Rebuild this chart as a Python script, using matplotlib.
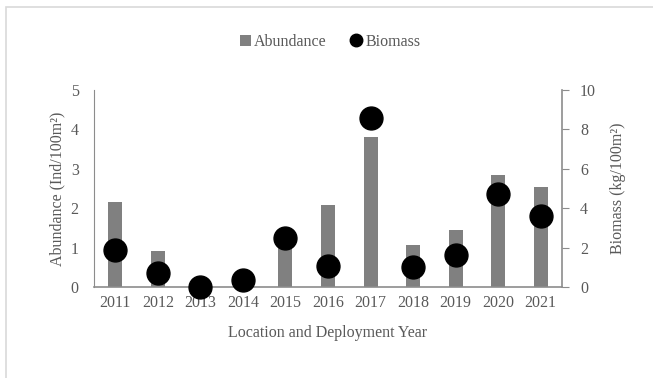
import matplotlib.pyplot as plt
from matplotlib.patches import Rectangle
from matplotlib.lines import Line2D
from matplotlib.patches import Patch

plt.rcParams['font.family'] = ['Liberation Serif', 'DejaVu Serif']

years = ['2011', '2012', '2013', '2014', '2015', '2016', '2017', '2018', '2019', '2020', '2021']
abundance = [2.17, 0.92, 0.0, 0.1, 1.2, 2.08, 3.80, 1.07, 1.45, 2.85, 2.55]
biomass = [1.88, 0.69, 0.0, 0.36, 2.49, 1.08, 8.59, 1.0, 1.64, 4.74, 3.6]

txt = '#595959'
axc = '#8c8c8c'

fig = plt.figure(figsize=(6.53, 3.78), dpi=100)
# light outer frame of the chart area
fig.patches.append(Rectangle((6 / 653, -0.1), 1.2, 1 - 7 / 378 + 0.1, transform=fig.transFigure,
                             fill=False, edgecolor='#d9d9d9', linewidth=1.2))

ax = fig.add_axes([94 / 653, 1 - 287 / 378, (562 - 94) / 653, (287 - 90) / 378])
x = range(len(years))
ax.bar(x, abundance, width=0.33, color='#808080', zorder=2)
ax.set_xlim(-0.5, len(years) - 0.5)
ax.set_ylim(0, 5)
ax.set_yticks(range(0, 6))
ax.set_xticks(list(x))
ax.set_xticklabels(years)
ax.tick_params(axis='x', length=0, colors=txt, labelsize=11.5, pad=6)
ax.tick_params(axis='y', length=0, colors=txt, labelsize=11.5, pad=11)
for s in ['top', 'right']:
    ax.spines[s].set_visible(False)
ax.spines['left'].set_color(axc)
ax.spines['bottom'].set_color(axc)
ax.spines['bottom'].set_linewidth(1.2)
ax.set_ylabel('Abundance (Ind/100m²)', color=txt, fontsize=11.5, labelpad=4)
ax.set_xlabel('Location and Deployment Year', color=txt, fontsize=11.5, labelpad=10)

ax2 = ax.twinx()
ax2.plot(list(x), biomass, 'o', color='black', markersize=16.5, zorder=3, clip_on=False)
ax2.set_ylim(0, 10)
ax2.set_yticks(range(0, 11, 2))
ax2.tick_params(axis='y', length=5, color=axc, colors=txt, labelsize=11.5, pad=8)
ax2.tick_params(axis='y', color=axc)
for s in ['top', 'left', 'bottom']:
    ax2.spines[s].set_visible(False)
ax2.spines['right'].set_color(axc)
ax2.spines['right'].set_linewidth(1.2)
ax2.set_ylabel('Biomass (kg/100m²)', color=txt, fontsize=11.5, labelpad=10)

handles = [Patch(facecolor='#808080', label='Abundance'),
           Line2D([], [], marker='o', linestyle='', color='black', markersize=9, label='Biomass')]
fig.legend(handles=handles, loc='center', bbox_to_anchor=(330 / 653, 1 - 42 / 378), ncol=2,
           frameon=False, fontsize=11.5, labelcolor=txt, handlelength=0.7, handleheight=0.7,
           handletextpad=0.2, columnspacing=1.5)

fig.savefig('out.png', dpi=100)
